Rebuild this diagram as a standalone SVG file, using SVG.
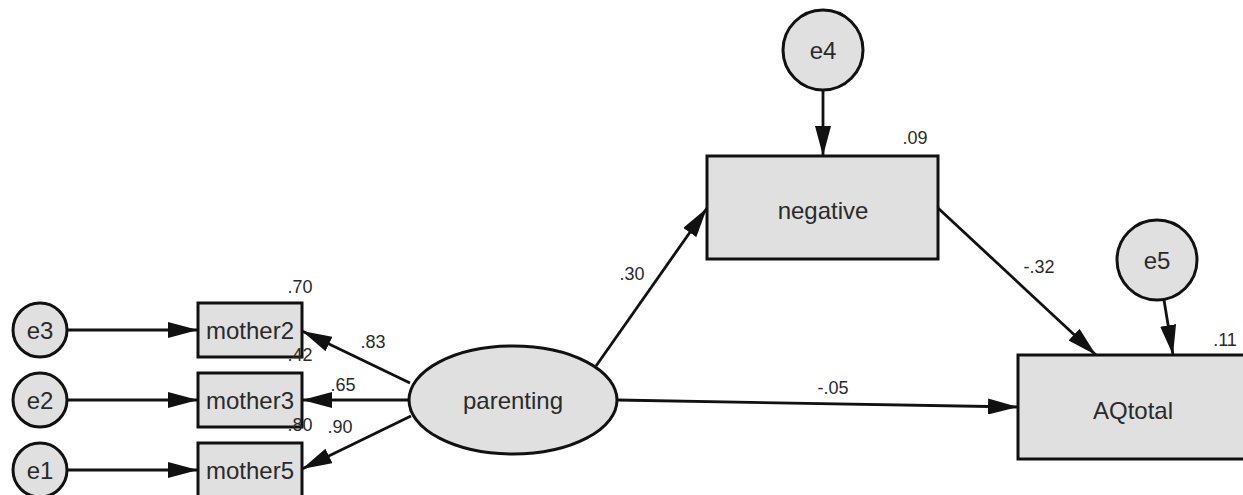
<svg xmlns="http://www.w3.org/2000/svg" width="1243" height="495" viewBox="0 0 1243 495">
<style>
.shape{fill:#e0e0e0;stroke:#111;stroke-width:3}
.lbl{font-family:"Liberation Sans",Arial,sans-serif;font-size:24px;fill:#2a2a2a;text-anchor:middle;dominant-baseline:central}
.num{font-family:"Liberation Sans",Arial,sans-serif;font-size:18px;fill:#2a2a2a;text-anchor:middle;dominant-baseline:central}
.edge{stroke:#111;stroke-width:2.8;fill:none;marker-end:url(#ah)}
</style>
<defs>
<marker id="ah" viewBox="0 0 30 16" refX="30" refY="8" markerWidth="30" markerHeight="16" markerUnits="userSpaceOnUse" orient="auto">
<path d="M0,0 L30,8 L0,16 z" fill="#111"/>
</marker>
</defs>
<rect width="1243" height="495" fill="#fff"/>
<g id="connectors">
<line class="edge" x1="67" y1="330" x2="198" y2="330"/>
<line class="edge" x1="67" y1="400" x2="198" y2="400"/>
<line class="edge" x1="67" y1="470" x2="198" y2="470"/>
<line class="edge" x1="410" y1="383" x2="302" y2="331"/>
<line class="edge" x1="409" y1="400" x2="302" y2="400"/>
<line class="edge" x1="411" y1="416" x2="302" y2="469"/>
<line class="edge" x1="596" y1="366" x2="707" y2="208"/>
<line class="edge" x1="617" y1="400" x2="1018" y2="407"/>
<line class="edge" x1="938" y1="208" x2="1096" y2="355"/>
<line class="edge" x1="823" y1="90" x2="823" y2="156"/>
<line class="edge" x1="1164" y1="300" x2="1173" y2="355"/>
</g>
<g id="e3"><circle class="shape" cx="40" cy="330" r="27"/><text class="lbl" x="40" y="330">e3</text></g>
<g id="e2"><circle class="shape" cx="40" cy="400" r="27"/><text class="lbl" x="40" y="400">e2</text></g>
<g id="e1"><circle class="shape" cx="40" cy="470" r="27"/><text class="lbl" x="40" y="470">e1</text></g>
<g id="mother2"><rect class="shape" x="198" y="303" width="104" height="54"/><text class="lbl" x="250" y="330">mother2</text></g>
<g id="mother3"><rect class="shape" x="198" y="373" width="104" height="54"/><text class="lbl" x="250" y="400">mother3</text></g>
<g id="mother5"><rect class="shape" x="198" y="443" width="104" height="54"/><text class="lbl" x="250" y="470">mother5</text></g>
<g id="parenting"><ellipse class="shape" cx="513" cy="400" rx="104" ry="54"/><text class="lbl" x="513" y="400">parenting</text></g>
<g id="e4"><circle class="shape" cx="823" cy="50" r="40"/><text class="lbl" x="823" y="50">e4</text></g>
<g id="negative"><rect class="shape" x="707" y="156" width="231" height="103"/><text class="lbl" x="823" y="210">negative</text></g>
<g id="e5"><circle class="shape" cx="1157" cy="260" r="40"/><text class="lbl" x="1157" y="260">e5</text></g>
<g id="AQtotal"><rect class="shape" x="1018" y="355" width="232" height="104"/><text class="lbl" x="1133" y="410">AQtotal</text></g>
<g id="labels">
<text class="num" x="300" y="287">.70</text>
<text class="num" x="300" y="355">.42</text>
<text class="num" x="300" y="425">.80</text>
<text class="num" x="373" y="342">.83</text>
<text class="num" x="343" y="385">.65</text>
<text class="num" x="340" y="427">.90</text>
<text class="num" x="632" y="274">.30</text>
<text class="num" x="915" y="138">.09</text>
<text class="num" x="1039" y="267">-.32</text>
<text class="num" x="833" y="388">-.05</text>
<text class="num" x="1225" y="340">.11</text>
</g>
</svg>
